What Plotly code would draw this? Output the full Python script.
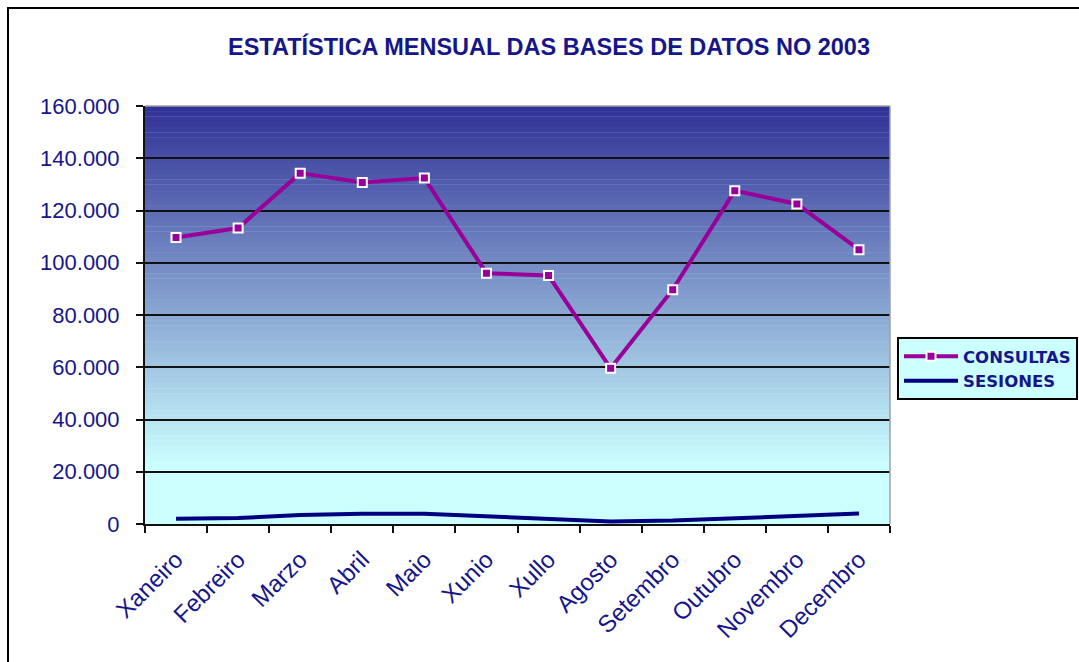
import plotly.graph_objects as go

# ---- data ----
meses = ["Xaneiro", "Febreiro", "Marzo", "Abril", "Maio", "Xunio", "Xullo",
         "Agosto", "Setembro", "Outubro", "Novembro", "Decembro"]
consultas = [109700, 113300, 134300, 130700, 132400, 96000, 95100,
             59600, 89700, 127600, 122500, 105000]
sesiones = [2000, 2300, 3400, 3900, 3900, 3000, 1800,
            1000, 1300, 2200, 3200, 4000]
y_ticks = list(range(0, 160001, 20000))
titulo = "ESTATÍSTICA MENSUAL DAS BASES DE DATOS NO 2003"

# ---- layout geometry (page pixels; body margin removed below) ----
W, H = 1079, 662
PL, PR, PT, PB = 145, 890, 106, 524          # plot area on the page
L, T = PL, PT
R, B = W - PR, H - PB
pw, ph = W - L - R, H - T - B


def px(x):  # page x -> paper
    return (x - L) / pw


def py(y):  # page y -> paper
    return (H - B - y) / ph


NAVY = "#16168a"
PURPLE = "#990099"

fig = go.Figure()
fig.add_trace(go.Scatter(
    x=meses, y=consultas, name="CONSULTAS", mode="lines+markers",
    line=dict(color=PURPLE, width=4),
    marker=dict(symbol="square", size=9, color=PURPLE,
                line=dict(color="white", width=2)),
))
fig.add_trace(go.Scatter(
    x=meses, y=sesiones, name="SESIONES", mode="lines",
    line=dict(color="#000080", width=4),
))

# gradient background for plot area
shapes = []
N = 80
c0 = (48, 48, 150)
c1 = (204, 255, 255)
stop = 0.86
for i in range(N):
    t = (i + 0.5) / N
    f = min(t / stop, 1.0)
    col = tuple(round(c0[k] + (c1[k] - c0[k]) * f) for k in range(3))
    shapes.append(dict(
        type="rect", xref="x domain", yref="y domain",
        x0=0, x1=1, y0=1 - (i + 1) / N - 0.001, y1=1 - i / N,
        fillcolor="rgb(%d,%d,%d)" % col, line=dict(width=0), layer="below",
    ))
# plot area light border (top, right)
shapes.append(dict(type="line", xref="x domain", yref="y domain",
                   x0=0, x1=1, y0=1, y1=1,
                   line=dict(color="#a0a0a0", width=1.5), layer="above"))
shapes.append(dict(type="line", xref="x domain", yref="y domain",
                   x0=1, x1=1, y0=0, y1=1,
                   line=dict(color="#a0a0a0", width=1.5), layer="above"))
# outer chart border (left and top edges visible)
shapes.append(dict(type="rect", xref="paper", yref="paper",
                   x0=px(8), x1=px(1120), y0=py(700), y1=py(8),
                   line=dict(color="black", width=2), layer="above"))

fig.update_layout(
    width=W, height=H, autosize=False,
    margin=dict(l=L, r=R, t=T, b=B, pad=0, autoexpand=False),
    paper_bgcolor="white", plot_bgcolor="#ccffff",
    separators=",.",
    font=dict(family="Liberation Sans, Arial, sans-serif", color=NAVY),
    shapes=shapes,
    showlegend=True,
    hovermode=False,
    legend=dict(
        x=px(897), y=py(337), xanchor="left", yanchor="top",
        bgcolor="#ccffff", bordercolor="black", borderwidth=2,
        font=dict(family="DejaVu Sans, sans-serif", size=16.5, color=NAVY,
                  weight="bold"),
        itemwidth=54, tracegroupgap=0,
    ),
    annotations=[dict(
        text="<b>" + titulo + "</b>", xref="paper", yref="paper",
        x=px(549), y=py(47), xanchor="center", yanchor="middle",
        showarrow=False,
        font=dict(family="Liberation Sans, Arial, sans-serif", size=23.5,
                  color=NAVY),
    )],
)

fig.update_xaxes(
    type="category", range=[-0.5, 11.5],
    showline=True, linecolor="#111111", linewidth=2,
    ticks="outside", tickson="boundaries", ticklen=7, tickwidth=2,
    tickcolor="#111111", showgrid=False, tickangle=-45,
    tickfont=dict(size=24, color=NAVY), ticklabelstandoff=10,
)
fig.update_yaxes(
    range=[0, 160000], tickvals=y_ticks, tickformat=",d",
    showline=True, linecolor="#111111", linewidth=2,
    ticks="outside", ticklen=7, tickwidth=2, tickcolor="#111111",
    showgrid=True, gridcolor="#111111", gridwidth=2, zeroline=False,
    tickfont=dict(size=22, color=NAVY), ticklabelstandoff=12,
)

fig.write_html(
    "out.html",
    config={"displayModeBar": False, "responsive": False},
    post_script="document.body.style.margin='0px';"
                "document.body.style.overflow='hidden';",
)
